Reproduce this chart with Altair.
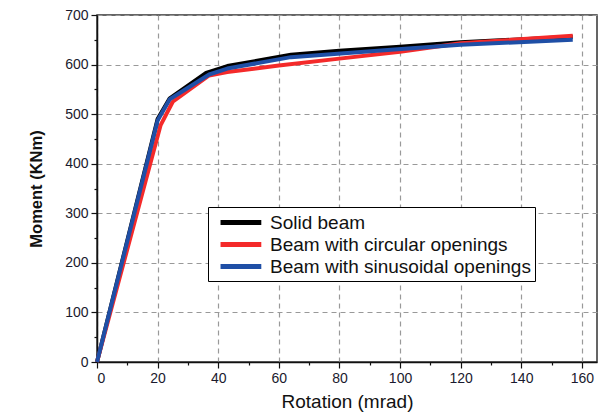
import altair as alt
import pandas as pd

series_names = ["Solid beam", "Beam with circular openings", "Beam with sinusoidal openings"]
colors = ["#000000", "#f42a2a", "#1f4fa6"]

solid_x = [0, 20, 24, 36, 43, 64, 80, 100, 120, 157]
solid_y = [0, 490, 532, 583, 597, 620, 628, 636, 645, 656]

circ_x = [0, 21, 25, 37, 43, 60, 80, 100, 120, 157]
circ_y = [0, 478, 525, 578, 585, 598, 612, 626, 643, 658]

sinu_x = [0, 20, 24, 37, 43, 64, 97, 120, 157]
sinu_y = [0, 487, 530, 580, 592, 615, 630, 640, 650]

rows = []
for name, xs, ys in [(series_names[0], solid_x, solid_y),
                     (series_names[1], circ_x, circ_y),
                     (series_names[2], sinu_x, sinu_y)]:
    for i, (a, b) in enumerate(zip(xs, ys)):
        rows.append({"series": name, "rot": a, "mom": b, "idx": i})
df = pd.DataFrame(rows)

x_values = list(range(0, 161, 10))
y_values = list(range(0, 701, 50))

FONT = "Liberation Sans"

chart = alt.Chart(df).mark_line(strokeWidth=4, strokeJoin="round").encode(
    x=alt.X("rot:Q",
            scale=alt.Scale(domain=[0, 165], nice=False),
            axis=alt.Axis(values=x_values,
                          labelExpr="datum.value % 20 === 0 ? datum.label : ''",
                          tickSize={"condition": {"test": "datum.value % 20 === 0", "value": 6}, "value": 3},
                          gridOpacity={"condition": {"test": "datum.value % 20 === 0", "value": 1}, "value": 0},
                          title="Rotation (mrad)", titlePadding=7, titleFontSize=19)),
    y=alt.Y("mom:Q",
            scale=alt.Scale(domain=[0, 700], nice=False),
            axis=alt.Axis(values=y_values,
                          labelExpr="datum.value % 100 === 0 ? datum.label : ''",
                          tickSize={"condition": {"test": "datum.value % 100 === 0", "value": 6}, "value": 3},
                          gridOpacity={"condition": {"test": "datum.value % 100 === 0", "value": 1}, "value": 0},
                          title="Moment (KNm)", titlePadding=20, titleFontSize=16.5,
                          titleFontWeight="bold")),
    color=alt.Color("series:N",
                    scale=alt.Scale(domain=series_names, range=colors),
                    sort=series_names,
                    legend=alt.Legend(orient="none", legendX=111, legendY=192, title=None,
                                      symbolType="M-0.33,0H4.2", symbolStrokeWidth=5,
                                      symbolSize=324,
                                      labelFontSize=19, labelFont=FONT, labelColor="#111",
                                      labelLimit=0, labelOffset=35,
                                      strokeColor="#000", fillColor="#fff",
                                      padding=4, rowPadding=-2.5)),
    order=alt.Order("idx:Q"),
    detail="series:N",
).properties(
    width=500, height=347,
    background="white",
    autosize=alt.AutoSizeParams(type="none"),
    padding={"left": 97, "top": 15, "right": 5, "bottom": 55},
).configure_view(
    stroke="#333", strokeWidth=1.5
).configure_axis(
    domainColor="#111", domainWidth=1.5, tickColor="#111", tickWidth=1.2,
    grid=True, gridColor="#999", gridDash=[5, 4], gridWidth=1.2,
    labelFont=FONT, labelFontSize=14, labelColor="#1a1a2e", labelPadding=3,
    titleFont=FONT, titleFontWeight="normal", titleColor="#111",
)

chart.save("out.html", embed_options={"renderer": "svg", "actions": False})
